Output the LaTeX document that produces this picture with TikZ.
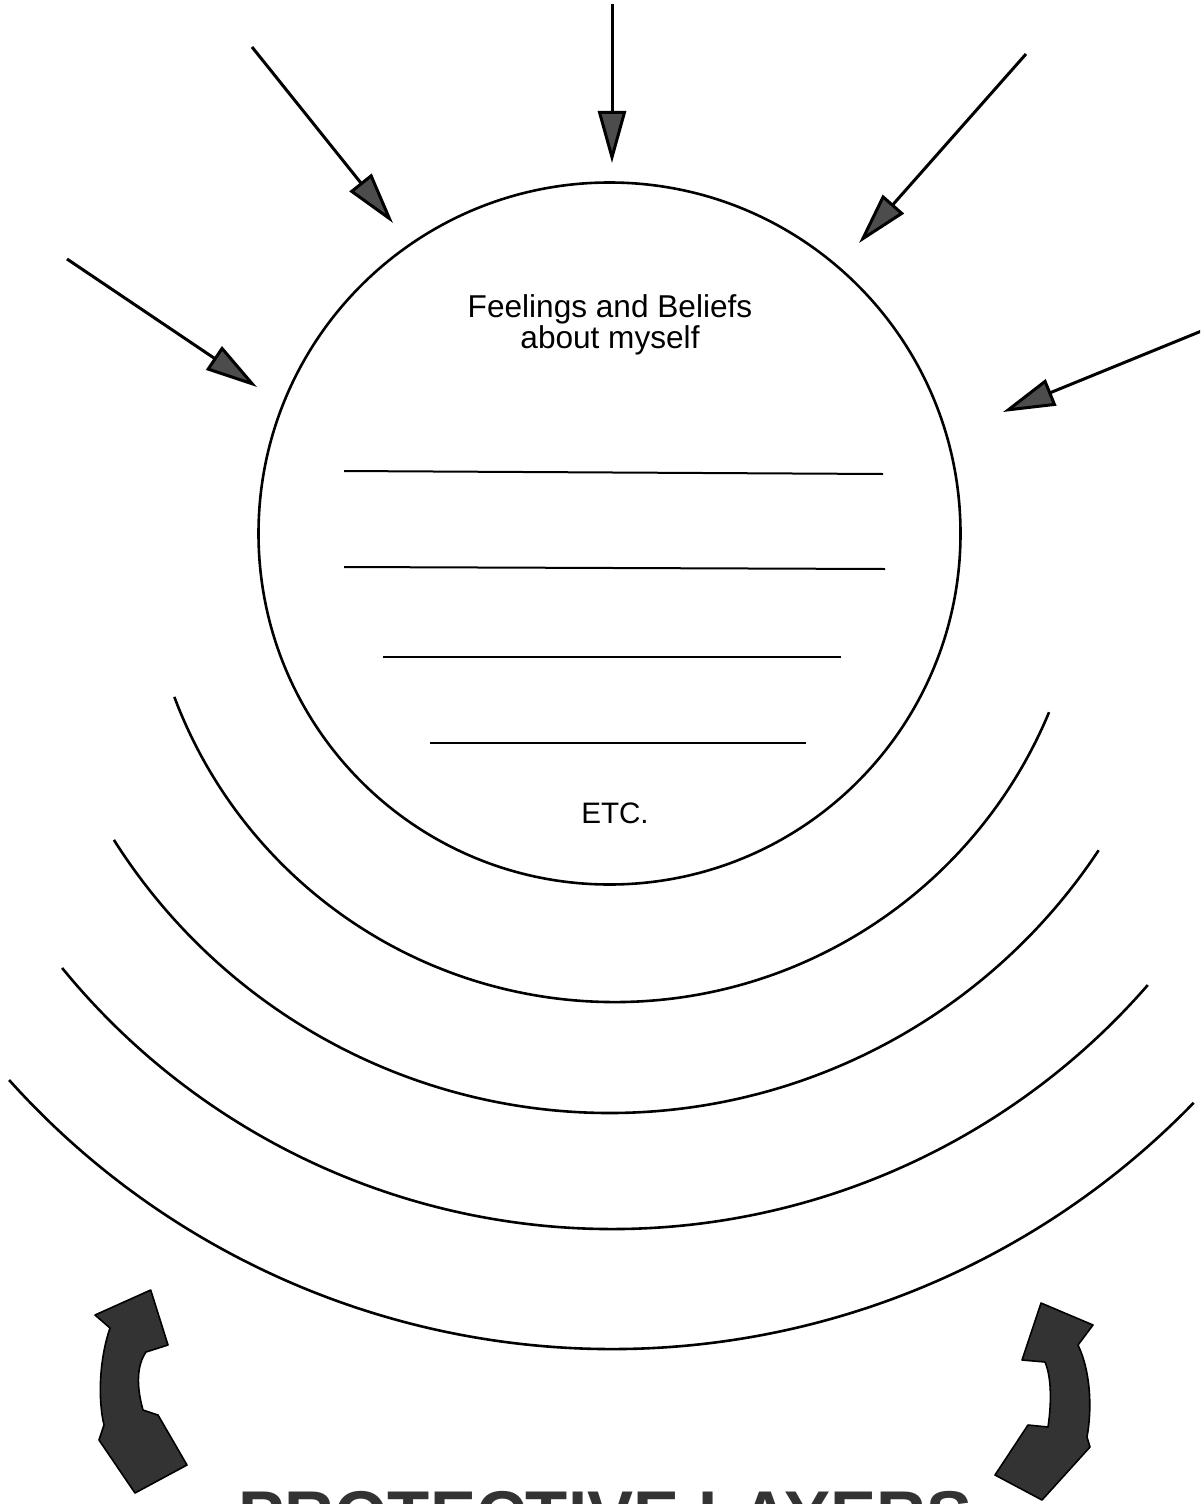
\documentclass[tikz,border=0pt]{standalone}
\usepackage{fontspec}
\setmainfont{Liberation Sans}
\usetikzlibrary{arrows.meta}
\begin{document}
\begin{tikzpicture}[x=0.5pt,y=-0.5pt,
  ray/.style={line width=1.5pt,-{Triangle[length=26pt,width=14pt,fill=black!70]}},
  ring/.style={line width=1.3pt},
  blank/.style={line width=1pt},
  bigarrow/.style={draw=black,line width=0.8pt,fill=black!80,line join=round},
  caption/.style={inner sep=0pt,anchor=base,font=\fontsize{15.8}{15.5}\selectfont},
  titletext/.style={inner sep=0pt,anchor=base west,font=\fontsize{34.5}{34.5}\selectfont\bfseries,text=black!80}]
\path[clip] (0,0) rectangle (1200,1504);
\useasboundingbox (0,0) rectangle (1200,1504);

% central circle
\coordinate (c) at (609.5,533.5);
\draw[ring] (c) circle[radius=351];

% text
\node[caption] (t1) at (610,317) {Feelings and Beliefs};
\node[caption] (t2) at (610,348) {about myself};
\node[caption,font=\fontsize{14.8}{15}\selectfont] (etc) at (615,823) {ETC.};

% blank lines
\coordinate (l1a) at (344,471); \coordinate (l1b) at (883,474);
\coordinate (l2a) at (344,567); \coordinate (l2b) at (885,569);
\coordinate (l3a) at (383,657); \coordinate (l3b) at (841,657);
\coordinate (l4a) at (430,743); \coordinate (l4b) at (806,743);
\draw[blank] (l1a) -- (l1b);
\draw[blank] (l2a) -- (l2b);
\draw[blank] (l3a) -- (l3b);
\draw[blank] (l4a) -- (l4b);

% protective layers: circular arcs drawn out from their lowest point, slightly tilted
\coordinate (bA) at (606.5,1002);
\coordinate (bB) at (603.5,1113);
\coordinate (bC) at (601,1229);
\coordinate (bD) at (596.5,1349);
\draw[ring,rotate around={-1:(bA)}]
  (bA) arc[start angle=90,end angle=158.43,radius=470.4]
  (bA) arc[start angle=90,end angle=21.57,radius=470.4];
\draw[ring,rotate around={-0.6:(bB)}]
  (bB) arc[start angle=90,end angle=147.1,radius=586.5]
  (bB) arc[start angle=90,end angle=32.9,radius=586.5];
\draw[ring,rotate around={-0.9:(bC)}]
  (bC) arc[start angle=90,end angle=139.88,radius=710]
  (bC) arc[start angle=90,end angle=40.12,radius=710];
\draw[ring,rotate around={-1.1:(bD)}]
  (bD) arc[start angle=90,end angle=137,radius=810]
  (bD) arc[start angle=90,end angle=43,radius=810];

% incoming arrows
\coordinate (s1) at (612,4);    \coordinate (e1) at (612,163);
\coordinate (s2) at (252,47);   \coordinate (e2) at (393,223);
\coordinate (s3) at (1026,54);  \coordinate (e3) at (859,243);
\coordinate (s4) at (67,259);   \coordinate (e4) at (257,387);
\coordinate (s5) at (1204,330); \coordinate (e5) at (1003,412);
\draw[ray] (s1) -- (e1);
\draw[ray] (s2) -- (e2);
\draw[ray] (s3) -- (e3);
\draw[ray] (s4) -- (e4);
\draw[ray] (s5) -- (e5);

% curved double arrows
\path[bigarrow] (150.7,1290) -- (95,1315) -- (110,1328)
  .. controls (99,1360) and (98,1400) .. (104,1425)
  -- (99,1440) -- (135,1493) -- (187,1465) -- (158,1415) -- (143,1410)
  .. controls (136,1385) and (137,1365) .. (146,1352)
  -- (168,1345) -- cycle;
\path[bigarrow] (1041,1303) -- (1093,1325) -- (1078,1345)
  .. controls (1091,1372) and (1092,1410) .. (1087,1437)
  -- (1090,1447) -- (1042,1500) -- (995,1475) -- (1028,1425) -- (1048,1427)
  .. controls (1052,1400) and (1051,1376) .. (1045,1362)
  -- (1022,1360) -- cycle;

% title (cut off at the bottom edge, as in the original)
\node[titletext] (title) at (238,1539) {PROTECTIVE LAYERS};
\end{tikzpicture}
\end{document}
